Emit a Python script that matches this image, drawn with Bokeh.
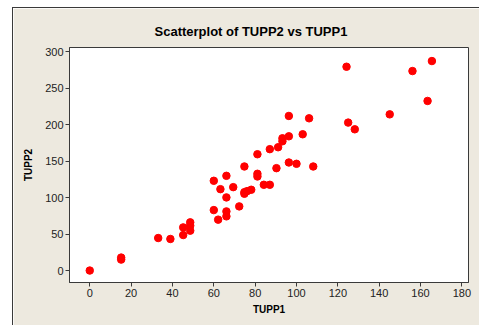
from bokeh.plotting import figure
from bokeh.models import Range1d, FixedTicker
from bokeh.embed import file_html
from bokeh.resources import INLINE

tupp1 = [0, 15.2, 15.2, 33.1, 39.0, 45.2, 45.2, 48.6, 48.6, 48.6, 60.0, 60.0,
         62.1, 63.2, 66.1, 66.1, 66.1, 66.1, 69.4, 72.3, 74.8, 74.8, 74.8, 76.1,
         78.1, 81.1, 81.1, 81.1, 84.2, 87.1, 87.1, 90.3, 91.1, 93.2, 93.2, 96.3,
         96.3, 96.3, 100.0, 103.0, 106.1, 108.1, 124.2, 125.0, 128.2, 145.1,
         156.1, 163.4, 165.5]
tupp2 = [0, 17.8, 15.0, 44.6, 43.3, 59.2, 48.7, 66.1, 61.6, 54.7, 123.1, 82.9,
         69.8, 111.6, 129.9, 100.3, 81.1, 74.3, 114.4, 88.0, 142.7, 107.5, 105.3,
         108.9, 110.8, 159.5, 132.7, 129.0, 117.6, 117.6, 166.5, 140.4, 169.1,
         181.4, 177.3, 212.0, 184.1, 148.2, 146.4, 186.9, 208.8, 142.7, 279.5,
         202.9, 193.7, 214.2, 273.6, 232.6, 287.3]
x_ticks = [0, 20, 40, 60, 80, 100, 120, 140, 160, 180]
y_ticks = [0, 50, 100, 150, 200, 250, 300]

BG = "#EDE9DF"
DARK = "#3a3a3a"

p = figure(width=467, height=318, output_backend="svg", toolbar_location=None,
           x_range=Range1d(-9.8, 183.2), y_range=Range1d(-16.4, 305.9),
           min_border_left=56, min_border_right=12, min_border_top=39,
           min_border_bottom=44,
           styles={"margin-left": "12px", "margin-top": "7px",
                   "border-left": "1px solid #3a3a3a",
                   "border-top": "1px solid #3a3a3a"})

p.background_fill_color = "white"
p.border_fill_color = BG
p.outline_line_color = DARK
p.outline_line_width = 1
p.xgrid.visible = False
p.ygrid.visible = False

p.title.text = "Scatterplot of TUPP2 vs TUPP1"
p.title.align = "left"
p.title.offset = 85
p.title.standoff = 17
p.title.text_font = "Liberation Sans"
p.title.text_font_size = "13px"
p.title.text_font_style = "bold"
p.title.text_color = "black"

p.scatter(tupp1, tupp2, size=7.5, color="#FF0000", line_color="#FF0000")

for ax, ticks, lab in ((p.xaxis[0], x_ticks, "TUPP1"), (p.yaxis[0], y_ticks, "TUPP2")):
    ax.ticker = FixedTicker(ticks=ticks)
    ax.minor_tick_line_color = None
    ax.major_tick_in = 0
    ax.major_tick_out = 4
    ax.major_tick_line_color = DARK
    ax.axis_line_color = DARK
    ax.major_label_text_font = "Liberation Sans"
    ax.major_label_text_font_size = "11px"
    ax.major_label_text_color = "#222222"
    ax.major_label_standoff = 2
    ax.axis_label = lab
    ax.axis_label_text_font = "Liberation Sans"
    ax.axis_label_text_font_size = "10px"
    ax.axis_label_text_font_style = "bold"
    ax.axis_label_text_color = "black"

p.xaxis[0].axis_label_standoff = 4
p.yaxis[0].axis_label_standoff = 8

open("out.html", "w").write(file_html(p, INLINE))
